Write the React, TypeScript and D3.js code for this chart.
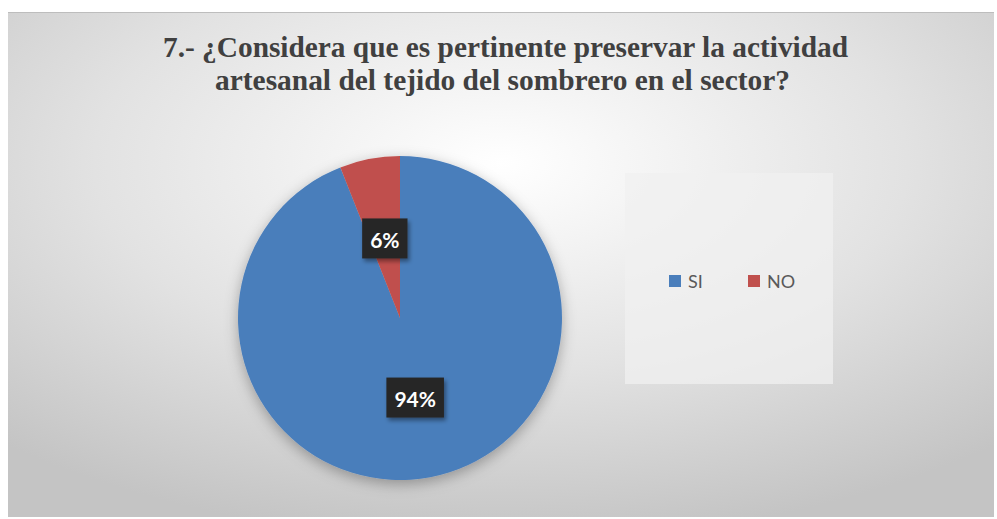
import React, { useEffect, useRef } from "react";
import * as d3 from "d3";

const categories = ["SI", "NO"];
const values = [94, 6];
const labels = ["94%", "6%"];
const colors = ["#4a7ebb", "#c0504d"];
const titleLines = [
  "7.- ¿Considera que es pertinente preservar la actividad",
  "artesanal del tejido del sombrero en el sector?",
];

const W = 997;
const H = 519;

export default function App() {
  const ref = useRef<SVGSVGElement>(null);

  useEffect(() => {
    const svg = d3.select(ref.current);
    svg.selectAll("*").remove();

    const defs = svg.append("defs");
    const bg = defs
      .append("radialGradient")
      .attr("id", "bgGrad")
      .attr("cx", "0.5")
      .attr("cy", "0.3")
      .attr("r", "0.75");
    bg.append("stop").attr("offset", "0").attr("stop-color", "#ffffff");
    bg.append("stop").attr("offset", "0.55").attr("stop-color", "#e2e2e2");
    bg.append("stop").attr("offset", "1").attr("stop-color", "#c4c4c4");

    const sh = defs
      .append("filter")
      .attr("id", "pieShadow")
      .attr("x", "-30%")
      .attr("y", "-30%")
      .attr("width", "160%")
      .attr("height", "160%");
    sh.append("feDropShadow")
      .attr("dx", 0)
      .attr("dy", 4)
      .attr("stdDeviation", 7)
      .attr("flood-color", "#000")
      .attr("flood-opacity", 0.3);

    const lsh = defs
      .append("filter")
      .attr("id", "lblShadow")
      .attr("x", "-30%")
      .attr("y", "-30%")
      .attr("width", "160%")
      .attr("height", "160%");
    lsh.append("feDropShadow")
      .attr("dx", 2)
      .attr("dy", 3)
      .attr("stdDeviation", 2)
      .attr("flood-color", "#000")
      .attr("flood-opacity", 0.4);

    // chart background
    svg
      .append("rect")
      .attr("x", 8)
      .attr("y", 12)
      .attr("width", 986)
      .attr("height", 505)
      .attr("fill", "url(#bgGrad)");
    svg
      .append("line")
      .attr("x1", 8)
      .attr("x2", 994)
      .attr("y1", 12.5)
      .attr("y2", 12.5)
      .attr("stroke", "#bdbdbd")
      .attr("stroke-width", 1);

    // plot-area / legend box
    svg
      .append("rect")
      .attr("x", 625)
      .attr("y", 173)
      .attr("width", 208)
      .attr("height", 211)
      .attr("fill", "#f0f0f0")
      .attr("opacity", 0.75);

    // title
    const tw = [685, 575];
    const tx = [163, 215];
    const ty = [57, 90];
    titleLines.forEach((t, i) => {
      svg
        .append("text")
        .attr("x", tx[i])
        .attr("y", ty[i])
        .attr("textLength", tw[i])
        .attr("lengthAdjust", "spacingAndGlyphs")
        .attr("font-family", "'Liberation Serif', 'Times New Roman', serif")
        .attr("font-weight", "bold")
        .attr("font-size", 29)
        .attr("fill", "#404040")
        .text(t);
    });

    // pie
    const cx = 400;
    const cy = 318;
    const R = 162;
    const pie = d3
      .pie<number>()
      .sort(null)
      .value((d) => d)
      .startAngle(0)
      .endAngle(2 * Math.PI);
    const arcs = pie(values);
    const arc = d3.arc<d3.PieArcDatum<number>>().innerRadius(0).outerRadius(R);
    const g = svg.append("g").attr("transform", `translate(${cx},${cy})`);
    g.append("g")
      .attr("filter", "url(#pieShadow)")
      .selectAll("path")
      .data(arcs)
      .join("path")
      .attr("d", arc)
      .attr("fill", (_, i) => colors[i])
      .attr("stroke", "none");

    // labels
    arcs.forEach((a, i) => {
      const [lx, ly] = arc.centroid(a);
      const lg = g.append("g").attr("transform", `translate(${lx},${ly})`);
      const rect = lg.append("rect").attr("fill", "#282828").attr("filter", "url(#lblShadow)");
      const txt = lg
        .append("text")
        .attr("text-anchor", "middle")
        .attr("dominant-baseline", "central")
        .attr("y", 1)
        .attr("font-family", "Lato, 'Open Sans', sans-serif")
        .attr("font-weight", 700)
        .attr("font-size", 21)
        .attr("fill", "#ffffff")
        .text(labels[i]);
      const bb = (txt.node() as SVGTextElement).getBBox();
      const bw = bb.width + 16;
      const bh = 40;
      rect
        .attr("x", -bw / 2)
        .attr("y", -bh / 2)
        .attr("width", bw)
        .attr("height", bh);
    });

    // legend
    const lx = [669, 748];
    categories.forEach((c, i) => {
      svg
        .append("rect")
        .attr("x", lx[i])
        .attr("y", 275)
        .attr("width", 12)
        .attr("height", 12)
        .attr("fill", colors[i]);
      svg
        .append("text")
        .attr("x", lx[i] + 19)
        .attr("y", 288)
        .attr("font-family", "Lato, 'Open Sans', sans-serif")
        .attr("font-size", 18)
        .attr("fill", "#595959")
        .text(c);
    });
  }, []);

  return (
    <svg
      ref={ref}
      width={W}
      height={H}
      style={{ position: "absolute", left: 0, top: 0, display: "block" }}
    />
  );
}
